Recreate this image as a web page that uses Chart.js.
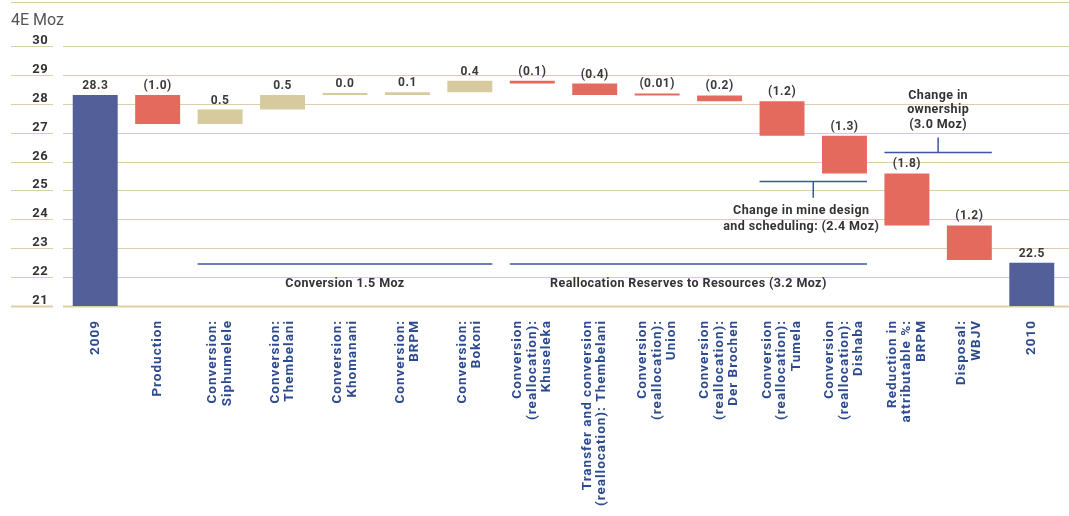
<!DOCTYPE html>
<html>
<head>
<meta charset="utf-8">
<title>Reserves reconciliation</title>
<script src="https://cdn.jsdelivr.net/npm/chart.js@4.4.1/dist/chart.umd.min.js"></script>
<style>
  html, body { margin: 0; padding: 0; background: #fff; }
</style>
</head>
<body>
<canvas id="reserves-chart" width="1069" height="516"></canvas>
<script>
// waterfall: 2009 reserves, movements, 2010 reserves (4E Moz)
const categories = [
  '2009',
  'Production',
  ['Conversion:', 'Siphumelele'],
  ['Conversion:', 'Thembelani'],
  ['Conversion:', 'Khomanani'],
  ['Conversion:', 'BRPM'],
  ['Conversion:', 'Bokoni'],
  ['Conversion', '(reallocation):', 'Khuseleka'],
  ['Transfer and conversion', '(reallocation): Thembelani'],
  ['Conversion', '(reallocation):', 'Union'],
  ['Conversion', '(reallocation):', 'Der Brochen'],
  ['Conversion', '(reallocation):', 'Tumela'],
  ['Conversion', '(reallocation):', 'Dishaba'],
  ['Reduction in', 'attributable %:', 'BRPM'],
  ['Disposal:', 'WBJV'],
  '2010'
];
const opening = 28.3;
const closing = 22.5;
const movements = [-1.0, 0.5, 0.5, 0.0, 0.1, 0.4, -0.1, -0.4, -0.01, -0.2, -1.2, -1.3, -1.8, -1.2];
const yTicks = [21, 22, 23, 24, 25, 26, 27, 28, 29, 30];

const BLUE = '#525f99';
const RED = '#e46a5e';
const SAND = '#d8ca9f';
const GRID = '#dccfa8';

// floating bars [start, end] built from the running total
const bars = [[yTicks[0], opening]];
let running = opening;
movements.forEach(m => {
  const next = Math.round((running + m) * 100) / 100;
  bars.push([running, next]);
  running = next;
});
bars.push([yTicks[0], closing]);

const shown = [opening, ...movements, closing];
const colors = shown.map((v, i) =>
  (i === 0 || i === shown.length - 1) ? BLUE : (v < 0 ? RED : SAND));

function fmt(v, i) {
  if (i === 0 || i === shown.length - 1) return v.toFixed(1);
  const d = (v !== 0 && Math.abs(v) < 0.05) ? 2 : 1;
  const s = Math.abs(v).toFixed(d);
  return v < 0 ? '(' + s + ')' : s;
}

// bracket notes: bar index range, line level, tick length (axis units)
const brackets = [
  { from: 2, to: 6, y: 22.45, tick: 0, textY: 21.76, dx: 0, lh: 15,
    text: ['Conversion 1.5 Moz'] },
  { from: 7, to: 12, y: 22.45, tick: 0, textY: 21.76, dx: 0, lh: 15,
    text: ['Reallocation Reserves to Resources (3.2 Moz)'] },
  { from: 11, to: 12, y: 25.31, tick: -0.56, textY: 24.31, dx: -12, lh: 16,
    text: ['Change in mine design', 'and scheduling: (2.4 Moz)'] },
  { from: 13, to: 14, y: 26.31, tick: 0.52, textY: 28.29, dx: 0, lh: 14.5,
    text: ['Change in', 'ownership', '(3.0 Moz)'] }
];

const framePlugin = {
  id: 'frame',
  beforeDatasetsDraw(chart) {
    const { ctx, chartArea, scales: { y } } = chart;
    ctx.save();
    ctx.strokeStyle = GRID;
    ctx.lineWidth = 1;
    ctx.beginPath();
    ctx.moveTo(11, 2.5);
    ctx.lineTo(chart.width, 2.5);
    ctx.stroke();

    ctx.fillStyle = '#555';
    ctx.font = '16px Roboto';
    ctx.textAlign = 'left';
    ctx.textBaseline = 'alphabetic';
    ctx.fillText('4E Moz', 11, 25);

    ctx.font = 'bold 13px Roboto';
    ctx.letterSpacing = '0.4px';
    ctx.textAlign = 'right';
    yTicks.forEach((t, k) => {
      const py = Math.round(y.getPixelForValue(t)) + 0.5;
      ctx.lineWidth = k === 0 ? 2 : 1;
      ctx.strokeStyle = GRID;
      ctx.beginPath();
      ctx.moveTo(11, py);
      ctx.lineTo(53, py);
      ctx.moveTo(chartArea.left - 1, py);
      ctx.lineTo(chart.width, py);
      ctx.stroke();
      ctx.fillStyle = '#333';
      ctx.fillText(String(t), 48, py - 3);
    });
    ctx.restore();
  },
  afterDatasetsDraw(chart) {
    const { ctx, scales: { x, y } } = chart;
    const meta = chart.getDatasetMeta(0);
    ctx.save();

    // value labels above each bar
    ctx.font = 'bold 12px Roboto';
    ctx.letterSpacing = '0.5px';
    ctx.fillStyle = '#3a3a3a';
    ctx.textAlign = 'center';
    ctx.textBaseline = 'bottom';
    meta.data.forEach((bar, i) => {
      const top = Math.min(bar.y, bar.base);
      ctx.fillText(fmt(shown[i], i), bar.x, top - 3);
    });

    // category labels, rotated, reading upwards
    ctx.font = 'bold 13.5px Roboto';
    ctx.letterSpacing = '1px';
    ctx.fillStyle = '#2c4a8f';
    ctx.textAlign = 'right';
    ctx.textBaseline = 'middle';
    categories.forEach((label, i) => {
      const lines = Array.isArray(label) ? label : [label];
      const px = x.getPixelForValue(i);
      lines.forEach((line, j) => {
        const off = (j - (lines.length - 1) / 2) * 14.5;
        ctx.save();
        ctx.translate(px + off, 320);
        ctx.rotate(-Math.PI / 2);
        ctx.fillText(line, 0, 0);
        ctx.restore();
      });
    });

    // brackets with notes
    ctx.strokeStyle = '#3b56a3';
    ctx.lineWidth = 1.5;
    ctx.font = 'bold 12.5px Roboto';
    ctx.letterSpacing = '0.4px';
    ctx.fillStyle = '#333';
    ctx.textAlign = 'center';
    ctx.textBaseline = 'middle';
    brackets.forEach(b => {
      const a = meta.data[b.from], z = meta.data[b.to];
      const x0 = a.x - a.width / 2, x1 = z.x + z.width / 2;
      const ly = y.getPixelForValue(b.y);
      ctx.beginPath();
      ctx.moveTo(x0, ly);
      ctx.lineTo(x1, ly);
      if (b.tick) {
        const mx = (x0 + x1) / 2;
        ctx.moveTo(mx, ly);
        ctx.lineTo(mx, y.getPixelForValue(b.y + b.tick));
      }
      ctx.stroke();

      const ty = y.getPixelForValue(b.textY);
      b.text.forEach((t, j) => ctx.fillText(t, (x0 + x1) / 2 + b.dx, ty + j * b.lh));
    });
    ctx.restore();
  }
};

const ctx = document.getElementById('reserves-chart').getContext('2d');
new Chart(ctx, {
  type: 'bar',
  data: {
    labels: categories,
    datasets: [{
      data: bars,
      backgroundColor: colors,
      borderWidth: 0,
      barPercentage: 0.72,
      categoryPercentage: 1,
      minBarLength: 2
    }]
  },
  options: {
    responsive: false,
    animation: false,
    layout: { padding: { top: 46, right: 6, left: 0, bottom: 0 } },
    plugins: { legend: { display: false }, tooltip: { enabled: false } },
    scales: {
      x: {
        grid: { display: false },
        border: { display: false },
        ticks: { display: false },
        afterFit: s => { s.height = 210; }
      },
      y: {
        min: yTicks[0],
        max: yTicks[yTicks.length - 1],
        grid: { display: false },
        border: { display: false },
        ticks: { display: false, stepSize: 1 },
        afterFit: s => { s.width = 64; }
      }
    }
  },
  plugins: [framePlugin]
});
</script>
</body>
</html>
